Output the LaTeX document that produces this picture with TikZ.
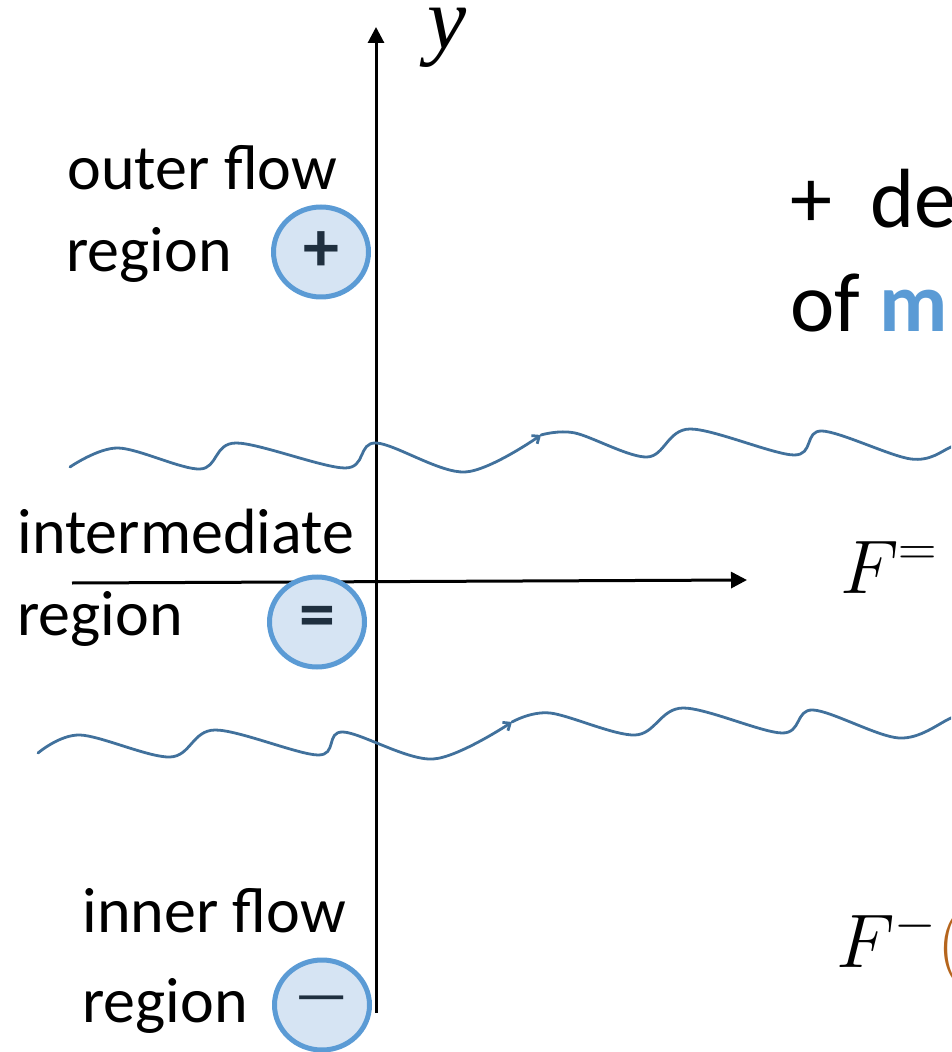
\RequirePackage{fix-cm}
\documentclass[tikz,border=0pt]{standalone}
\usepackage{fontspec}
\setmainfont{Carlito}
\newfontfamily\yfont{Liberation Serif}
\usepackage{xcolor}
\usepackage{tikz}
\usetikzlibrary{arrows.meta,shapes.geometric}
\definecolor{circblue}{HTML}{5B9BD5}
\definecolor{circfill}{HTML}{D6E4F3}
\definecolor{wavecol}{HTML}{41719C}
\definecolor{signcol}{HTML}{1F2F3F}
\definecolor{parencol}{HTML}{B5651D}

\begin{document}
\begin{tikzpicture}[
    x=0.5pt,y=-0.5pt,
    lbl/.style={anchor=base west,inner sep=0pt,font=\fontsize{32}{38}\selectfont},
    bigtxt/.style={anchor=base west,inner sep=0pt,font=\fontsize{42}{50}\selectfont},
    mathlbl/.style={anchor=base west,inner sep=0pt,font=\fontsize{38}{45}\selectfont},
    regioncirc/.style={ellipse,draw=circblue,fill=circfill,line width=2.5pt,
                  minimum width=47.5pt,minimum height=45pt,inner sep=0pt,
                  text=signcol,font=\bfseries\fontsize{36}{40}\selectfont},
    axis/.style={-{Triangle[length=8pt,width=8pt]},line width=1.5pt},
    wave/.style={wavecol,line width=1.4pt,line cap=round},
    barb/.style={-{Straight Barb[length=3pt,width=5pt]}}
]
\clip (0,0) rectangle (951,1052);

% axes
\coordinate (ybot) at (376,1013);
\coordinate (ytop) at (376,27);
\coordinate (xleft) at (72,583);
\coordinate (xright) at (747,580);
\draw[axis] (ybot) -- (ytop);
\draw[axis] (xleft) -- (xright);
\node[anchor=base west,inner sep=0pt,font=\yfont\itshape\fontsize{44}{50}\selectfont] (ylab) at (427,49) {y};

% upper interface
\draw[wave,barb] plot[smooth,tension=0.55] coordinates {(70,467) (118,448) (200,469)
    (236,443) (345,468) (376,443) (465,472) (541,435)};
\draw[wave] plot[smooth,tension=0.55] coordinates {(541,435) (575,433) (647,457)
    (690,429) (794,455) (822,431) (911,459) (951,447) (975,432)};

% lower interface
\draw[wave,barb] plot[smooth,tension=0.55] coordinates {(38,753) (80,735) (170,757)
    (215,730) (318,755) (343,732) (433,759) (512,722)};
\draw[wave] plot[smooth,tension=0.55] coordinates {(512,722) (550,713) (635,735)
    (683,708) (782,733) (813,710) (899,738) (951,718) (975,706)};

% regions
\node[lbl] (outer1) at (67,190) {outer flow};
\node[lbl] (outer2) at (66,272) {region};
\node[regioncirc] (plus) at (321,252) {+};

\node[lbl] (inter1) at (17,553) {intermediate};
\node[lbl] (inter2) at (17,635) {region};
\node[regioncirc] (eq) at (317,622) {=};

\node[lbl] (inner1) at (82,932) {inner flow};
\node[lbl] (inner2) at (82,1022) {region};
\node[regioncirc,font=\mdseries\fontsize{30}{36}\selectfont] (minus) at (322,1005) {\raisebox{-2pt}{—}};

% right side
\node[bigtxt] (deform) at (790,228) {+~~de};
\node[bigtxt] (meanof) at (790,332) {of \textcolor{circblue}{\textbf{m}}};
\node[mathlbl] (Feq) at (840,593) {$F^{=}$};
\node[mathlbl] (Fminus) at (836,967) {$F^{-}{\color{parencol}(}$};
\end{tikzpicture}
\end{document}
